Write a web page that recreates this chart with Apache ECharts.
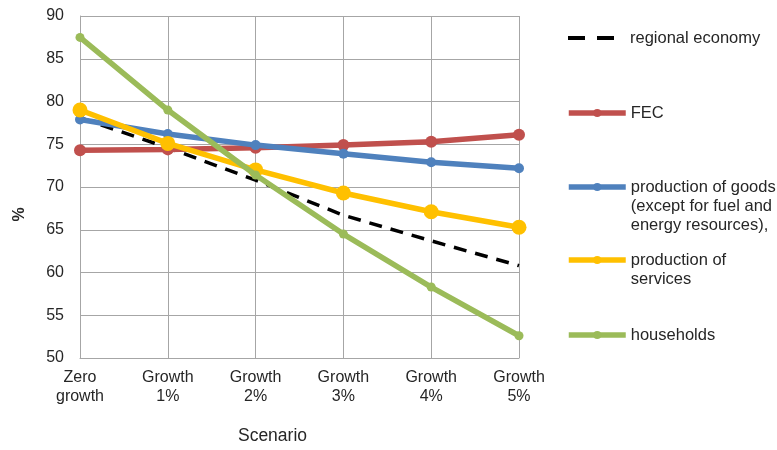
<!DOCTYPE html>
<html>
<head>
<meta charset="utf-8">
<script src="https://cdn.jsdelivr.net/npm/echarts@6/dist/echarts.min.js"></script>
<style>html,body{margin:0;padding:0;background:#fff}#c{width:777px;height:450px}</style>
</head>
<body>
<div id="c"></div>
<script>
const categories = ['Zero\ngrowth', 'Growth\n1%', 'Growth\n2%', 'Growth\n3%', 'Growth\n4%', 'Growth\n5%'];
const regionalEconomy = [78.1, 74.6, 70.8, 66.7, 63.7, 60.8];
const fec = [74.3, 74.4, 74.6, 74.9, 75.3, 76.1];
const productionGoods = [77.9, 76.2, 74.9, 73.9, 72.9, 72.2];
const productionServices = [79.0, 75.1, 72.0, 69.3, 67.1, 65.3];
const households = [87.5, 79.0, 71.4, 64.5, 58.3, 52.6];
const yTicks = { min: 50, max: 90, interval: 5 };

const nameRE = 'regional economy';
const nameFEC = 'FEC';
const nameGoods = 'production of goods\n(except for fuel and\nenergy resources),';
const nameServ = 'production of\nservices';
const nameHH = 'households';

const font = 'Liberation Sans, Arial, sans-serif';
const LH = 19;
function legendAt(name, iconY, lineStyle, hideSymbol) {
  const lines = name.split('\n').length;
  const pre = '\n'.repeat(lines - 1);
  const total = 2 * lines - 1;
  return {
    data: [name], orient: 'vertical', left: 566, top: iconY + 1 - total * LH / 2,
    padding: 0, itemWidth: 57, itemHeight: 10, selectedMode: false,
    formatter: function (n) { return pre + n; },
    lineStyle: lineStyle,
    itemStyle: hideSymbol ? { color: 'rgba(0,0,0,0)', borderWidth: 0, opacity: 0 } : {},
    textStyle: { fontFamily: font, fontSize: 16.5, color: '#262626', lineHeight: LH }
  };
}
const chart = echarts.init(document.getElementById('c'), null, { renderer: 'canvas' });
chart.setOption({
  animation: false,
  grid: { left: 80, right: 258, top: 16, bottom: 91, containLabel: false },
  legend: [
    legendAt(nameRE, 37, { width: 4, type: [17, 12] }, true),
    legendAt(nameFEC, 112, { width: 5.5 }, false),
    legendAt(nameGoods, 186, { width: 5.5 }, false),
    legendAt(nameServ, 259, { width: 5.5 }, false),
    legendAt(nameHH, 334, { width: 5.5 }, false)
  ],
  xAxis: {
    type: 'category', data: categories, boundaryGap: false,
    axisLine: { lineStyle: { color: '#a6a6a6', width: 1 } },
    axisTick: { show: false },
    splitLine: { show: true, lineStyle: { color: '#a6a6a6', width: 1 } },
    axisLabel: { fontFamily: font, fontSize: 16, color: '#262626', lineHeight: 19, margin: 10, interval: 0 },
    name: 'Scenario', nameLocation: 'middle', nameGap: 69,
    nameTextStyle: { fontFamily: font, fontSize: 17.5, color: '#262626', padding: [0, 54, 0, 0] }
  },
  yAxis: {
    type: 'value', min: yTicks.min, max: yTicks.max, interval: yTicks.interval,
    axisLine: { show: true, lineStyle: { color: '#a6a6a6', width: 1 } },
    axisTick: { show: false },
    splitLine: { show: true, lineStyle: { color: '#a6a6a6', width: 1 } },
    axisLabel: { fontFamily: font, fontSize: 16, color: '#262626', margin: 16 },
    name: '%', nameLocation: 'middle', nameGap: 52, nameRotate: 90,
    nameTextStyle: { fontFamily: font, fontSize: 16, fontWeight: 'bold', color: '#262626', padding: [0, 55, 0, 0] }
  },
  series: [
    { name: nameRE, type: 'line', data: regionalEconomy, showSymbol: false, symbol: 'none',
      lineStyle: { color: '#000', width: 3.5, type: [13, 9] }, itemStyle: { color: '#000' }, z: 2 },
    { name: nameFEC, type: 'line', data: fec, symbol: 'circle', symbolSize: 12,
      lineStyle: { color: '#C0504D', width: 5.5 }, itemStyle: { color: '#C0504D' }, z: 3 },
    { name: nameGoods, type: 'line', data: productionGoods, symbol: 'circle', symbolSize: 10,
      lineStyle: { color: '#4F81BD', width: 5.5 }, itemStyle: { color: '#4F81BD' }, z: 4 },
    { name: nameServ, type: 'line', data: productionServices, symbol: 'circle', symbolSize: 15,
      lineStyle: { color: '#FFC000', width: 5.5 }, itemStyle: { color: '#FFC000' }, z: 5 },
    { name: nameHH, type: 'line', data: households, symbol: 'circle', symbolSize: 9,
      lineStyle: { color: '#9BBB59', width: 5.5 }, itemStyle: { color: '#9BBB59' }, z: 6 }
  ]
});
</script>
</body>
</html>
